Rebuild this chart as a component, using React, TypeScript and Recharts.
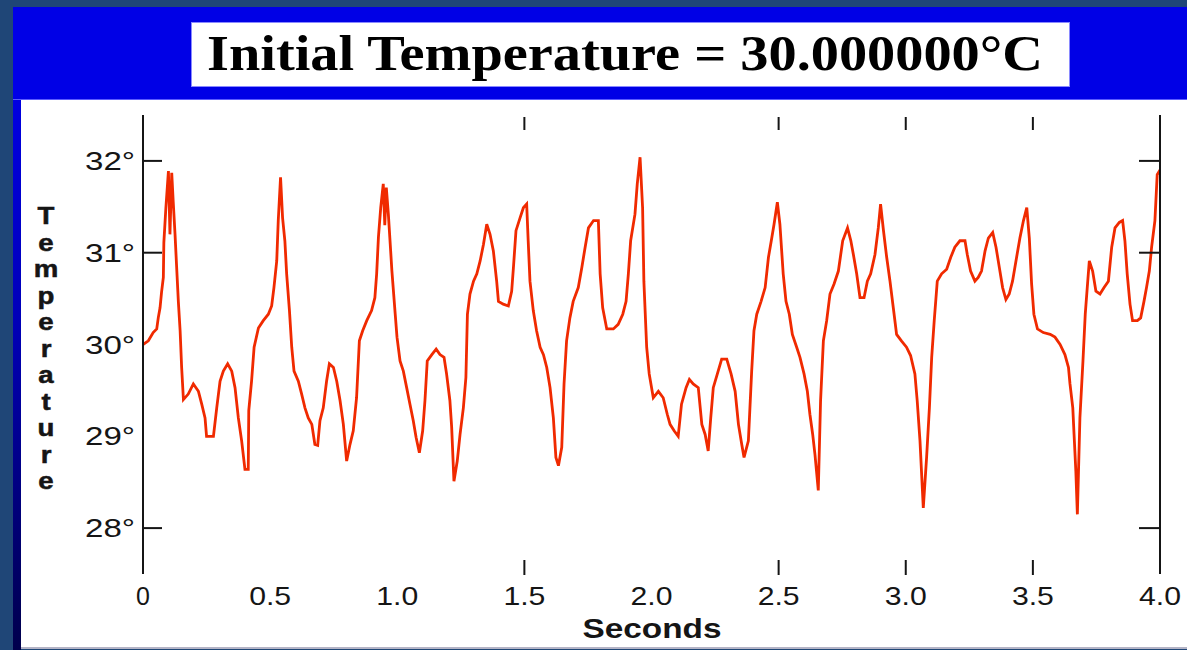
import React from 'react';
import { LineChart, Line, XAxis, YAxis } from 'recharts';

const seconds = [
  0.000, 0.021, 0.040, 0.054, 0.060, 0.067, 0.073, 0.080, 0.082, 0.090,
  0.100, 0.106, 0.113, 0.119, 0.126, 0.132, 0.139, 0.146, 0.152, 0.159,
  0.178, 0.198, 0.218, 0.231, 0.244, 0.250, 0.277, 0.290, 0.303, 0.316,
  0.333, 0.349, 0.362, 0.375, 0.388, 0.401, 0.414, 0.416, 0.427, 0.437,
  0.454, 0.473, 0.493, 0.506, 0.515, 0.526, 0.532, 0.541, 0.549, 0.558,
  0.565, 0.576, 0.585, 0.594, 0.611, 0.624, 0.637, 0.650, 0.664, 0.676,
  0.687, 0.696, 0.709, 0.722, 0.733, 0.749, 0.762, 0.775, 0.788, 0.801,
  0.814, 0.827, 0.840, 0.851, 0.864, 0.880, 0.899, 0.912, 0.919, 0.926,
  0.935, 0.945, 0.951, 0.957, 0.965, 0.979, 0.992, 0.999, 1.011, 1.024,
  1.037, 1.050, 1.063, 1.074, 1.087, 1.100, 1.109, 1.118, 1.136, 1.153,
  1.168, 1.184, 1.194, 1.207, 1.214, 1.223, 1.236, 1.247, 1.260, 1.270,
  1.276, 1.286, 1.300, 1.313, 1.326, 1.339, 1.352, 1.365, 1.378, 1.391,
  1.398, 1.417, 1.437, 1.450, 1.457, 1.467, 1.483, 1.496, 1.509, 1.515,
  1.522, 1.535, 1.548, 1.562, 1.575, 1.588, 1.601, 1.614, 1.624, 1.634,
  1.647, 1.656, 1.666, 1.679, 1.692, 1.712, 1.726, 1.739, 1.752, 1.772,
  1.791, 1.798, 1.808, 1.824, 1.850, 1.869, 1.887, 1.900, 1.909, 1.918,
  1.935, 1.944, 1.955, 1.965, 1.970, 1.981, 1.991, 2.007, 2.027, 2.046,
  2.062, 2.073, 2.089, 2.105, 2.118, 2.136, 2.149, 2.164, 2.184, 2.198,
  2.211, 2.223, 2.233, 2.243, 2.259, 2.276, 2.296, 2.313, 2.329, 2.342,
  2.355, 2.364, 2.381, 2.394, 2.403, 2.414, 2.431, 2.447, 2.460, 2.473,
  2.482, 2.495, 2.505, 2.518, 2.529, 2.542, 2.554, 2.571, 2.584, 2.600,
  2.613, 2.623, 2.634, 2.643, 2.656, 2.665, 2.676, 2.689, 2.702, 2.718,
  2.735, 2.752, 2.771, 2.784, 2.794, 2.807, 2.820, 2.836, 2.849, 2.862,
  2.879, 2.892, 2.901, 2.912, 2.925, 2.938, 2.951, 2.964, 2.983, 3.003,
  3.019, 3.036, 3.045, 3.056, 3.069, 3.082, 3.093, 3.102, 3.112, 3.124,
  3.141, 3.161, 3.177, 3.193, 3.213, 3.233, 3.242, 3.255, 3.272, 3.285,
  3.298, 3.312, 3.325, 3.342, 3.355, 3.368, 3.381, 3.394, 3.407, 3.420,
  3.436, 3.449, 3.463, 3.476, 3.486, 3.495, 3.504, 3.518, 3.541, 3.568,
  3.587, 3.607, 3.626, 3.640, 3.646, 3.657, 3.662, 3.669, 3.675, 3.685,
  3.697, 3.706, 3.715, 3.722, 3.735, 3.748, 3.764, 3.780, 3.797, 3.810,
  3.823, 3.840, 3.853, 3.862, 3.871, 3.882, 3.892, 3.911, 3.924, 3.937,
  3.947, 3.958, 3.967, 3.980, 3.989, 4.000,
];

const temperature = [
  30.00, 30.04, 30.13, 30.17, 30.29, 30.40, 30.57, 30.73, 31.11, 31.49,
  31.89, 31.20, 31.87, 31.55, 31.20, 30.86, 30.47, 30.15, 29.75, 29.40,
  29.46, 29.57, 29.49, 29.35, 29.20, 29.00, 29.00, 29.31, 29.60, 29.71,
  29.79, 29.71, 29.53, 29.20, 28.95, 28.64, 28.64, 29.28, 29.60, 29.97,
  30.18, 30.26, 30.33, 30.42, 30.62, 30.91, 31.35, 31.82, 31.38, 31.13,
  30.77, 30.37, 29.97, 29.71, 29.60, 29.46, 29.31, 29.20, 29.13, 28.91,
  28.90, 29.17, 29.31, 29.60, 29.79, 29.75, 29.60, 29.39, 29.13, 28.73,
  28.91, 29.06, 29.42, 30.04, 30.15, 30.26, 30.37, 30.51, 30.77, 31.17,
  31.49, 31.75, 31.30, 31.71, 31.42, 30.80, 30.33, 30.08, 29.82, 29.71,
  29.53, 29.35, 29.17, 28.99, 28.82, 29.06, 29.39, 29.82, 29.89, 29.95,
  29.89, 29.86, 29.68, 29.39, 29.10, 28.51, 28.73, 29.02, 29.31, 29.64,
  30.33, 30.55, 30.69, 30.77, 30.91, 31.09, 31.31, 31.20, 31.02, 30.69,
  30.47, 30.44, 30.42, 30.58, 30.84, 31.24, 31.38, 31.49, 31.53, 31.13,
  30.69, 30.37, 30.15, 29.97, 29.89, 29.75, 29.53, 29.20, 28.77, 28.68,
  28.88, 29.57, 30.04, 30.29, 30.47, 30.62, 30.84, 31.06, 31.27, 31.35,
  31.35, 30.77, 30.40, 30.17, 30.17, 30.22, 30.33, 30.47, 30.77, 31.13,
  31.42, 31.75, 32.04, 31.49, 30.69, 29.97, 29.68, 29.42, 29.49, 29.42,
  29.24, 29.13, 29.06, 29.00, 29.35, 29.53, 29.62, 29.57, 29.53, 29.13,
  29.02, 28.84, 29.20, 29.53, 29.68, 29.84, 29.84, 29.68, 29.49, 29.13,
  28.91, 28.77, 28.95, 29.71, 30.15, 30.33, 30.47, 30.62, 30.95, 31.16,
  31.31, 31.55, 31.31, 30.77, 30.47, 30.33, 30.11, 29.97, 29.86, 29.68,
  29.49, 29.24, 29.02, 28.80, 28.41, 29.39, 30.04, 30.26, 30.55, 30.66,
  30.80, 31.13, 31.27, 31.13, 30.98, 30.77, 30.51, 30.51, 30.69, 30.77,
  30.98, 31.27, 31.53, 31.25, 30.95, 30.69, 30.40, 30.11, 30.04, 29.97,
  29.88, 29.68, 29.39, 28.95, 28.22, 28.77, 29.31, 29.86, 30.26, 30.69,
  30.77, 30.82, 30.95, 31.06, 31.13, 31.13, 30.98, 30.80, 30.69, 30.73,
  30.80, 31.02, 31.16, 31.22, 31.06, 30.84, 30.62, 30.49, 30.55, 30.69,
  30.95, 31.16, 31.35, 31.49, 31.16, 30.66, 30.33, 30.17, 30.13, 30.11,
  30.08, 30.00, 29.89, 29.75, 29.57, 29.31, 29.02, 28.62, 28.15, 29.20,
  29.82, 30.33, 30.66, 30.91, 30.80, 30.58, 30.55, 30.62, 30.69, 31.06,
  31.27, 31.33, 31.35, 31.13, 30.77, 30.44, 30.26, 30.26, 30.29, 30.47,
  30.62, 30.80, 31.06, 31.35, 31.85, 31.90,
];

const xTickValues = [0, 0.5, 1, 1.5, 2, 2.5, 3, 3.5, 4];
const xTickLabels = ['0', '0.5', '1.0', '1.5', '2.0', '2.5', '3.0', '3.5', '4.0'];
const xTickMarks = [1.5, 2.5, 3, 3.5];
const yTickValues = [28, 29, 30, 31, 32];
const yTickLabels = ['28°', '29°', '30°', '31°', '32°'];
const yTickMarks = [28, 31, 32];
const titleText = 'Initial Temperature = 30.000000°C';
const xAxisTitle = 'Seconds';
const yAxisTitle = 'Temperature';

const data = seconds.map((t, i) => ({ t, temp: temperature[i] }));

const SANS = '"Liberation Sans", Arial, Helvetica, sans-serif';
const INK = '#151515';

// plot frame (page pixels)
const PLOT_LEFT = 143;
const PLOT_RIGHT = 1160;
const PLOT_TOP = 115;
const PLOT_BOTTOM = 574;

const BottomTick = (props: any) => {
  const { x, payload } = props;
  const v = payload.value;
  const idx = xTickValues.indexOf(v);
  const label = idx >= 0 ? xTickLabels[idx] : String(v);
  const extra: any = label.length > 1 ? { textLength: 42, lengthAdjust: 'spacingAndGlyphs' } : {};
  const y = PLOT_BOTTOM;
  return (
    <g>
      {xTickMarks.includes(v) && (
        <line x1={x} x2={x} y1={y + 1} y2={y - 14} stroke={INK} strokeWidth={2} />
      )}
      <text x={x} y={y + 31} textAnchor="middle" fontFamily={SANS} fontSize={25} fill={INK} {...extra}>
        {label}
      </text>
    </g>
  );
};

const TopTick = (props: any) => {
  const { x, payload } = props;
  if (!xTickMarks.includes(payload.value)) return <g />;
  const y = PLOT_TOP;
  return <line x1={x} x2={x} y1={y + 2} y2={y + 15} stroke={INK} strokeWidth={2} />;
};

const LeftTick = (props: any) => {
  const { y, payload } = props;
  const x = PLOT_LEFT;
  const v = payload.value;
  const idx = yTickValues.indexOf(v);
  const label = idx >= 0 ? yTickLabels[idx] : String(v);
  return (
    <g>
      {yTickMarks.includes(v) && (
        <line x1={x} x2={x + 19} y1={y} y2={y} stroke={INK} strokeWidth={2} />
      )}
      <text
        x={x - 8}
        y={y + 9}
        textAnchor="end"
        fontFamily={SANS}
        fontSize={25}
        fill={INK}
        textLength={50}
        lengthAdjust="spacingAndGlyphs"
      >
        {label}
      </text>
    </g>
  );
};

const RightTick = (props: any) => {
  const { y, payload } = props;
  if (!yTickMarks.includes(payload.value)) return <g />;
  const x = PLOT_RIGHT;
  return <line x1={x - 21} x2={x} y1={y} y2={y} stroke={INK} strokeWidth={2} />;
};

const LEFT_W = 60;
const RIGHT_W = 10;
const BOTTOM_H = 40;
const TOP_H = 10;

export default function App() {
  return (
    <div
      style={{
        position: 'absolute',
        left: 0,
        top: 0,
        width: 1187,
        height: 650,
        background: '#1f4677',
        overflow: 'hidden',
      }}
    >
      <div
        style={{
          position: 'absolute',
          left: 13,
          top: 7,
          width: 1174,
          height: 93,
          background: '#0000e6',
          borderBottom: '1px solid #5c5cff',
          boxSizing: 'border-box',
        }}
      />
      <div
        style={{
          position: 'absolute',
          left: 13,
          top: 100,
          width: 8,
          height: 550,
          background: 'linear-gradient(to bottom, #0000e0 0%, #0000b8 40%, #00004c 100%)',
        }}
      />
      <div
        style={{
          position: 'absolute',
          left: 21,
          top: 100,
          width: 1166,
          height: 549,
          background: '#ffffff',
          borderBottom: '2px solid #b4b4c6',
          boxSizing: 'border-box',
        }}
      />
      <div
        style={{
          position: 'absolute',
          left: 191,
          top: 22,
          width: 879,
          height: 65,
          background: '#ffffff',
          border: '1px solid #8a8aff',
          boxSizing: 'border-box',
        }}
      />
      <div style={{ position: 'absolute', left: 0, top: 0 }}>
        <LineChart
          width={1187}
          height={650}
          data={data}
          margin={{
            top: PLOT_TOP - TOP_H,
            right: 1187 - PLOT_RIGHT - RIGHT_W,
            bottom: 650 - PLOT_BOTTOM - BOTTOM_H,
            left: PLOT_LEFT - LEFT_W,
          }}
        >
          <XAxis
            dataKey="t"
            type="number"
            domain={[0, 4]}
            ticks={xTickValues}
            interval={0}
            height={BOTTOM_H}
            axisLine={false}
            tickLine={false}
            tick={<BottomTick />}
            allowDataOverflow
          />
          <XAxis
            xAxisId="top"
            orientation="top"
            dataKey="t"
            type="number"
            domain={[0, 4]}
            ticks={xTickValues}
            interval={0}
            height={TOP_H}
            axisLine={false}
            tickLine={false}
            tick={<TopTick />}
            allowDataOverflow
          />
          <YAxis
            type="number"
            domain={[27.5, 32.5]}
            ticks={yTickValues}
            interval={0}
            width={LEFT_W}
            axisLine={{ stroke: INK, strokeWidth: 2 }}
            tickLine={false}
            tick={<LeftTick />}
            allowDataOverflow
          />
          <YAxis
            yAxisId="right"
            orientation="right"
            type="number"
            domain={[27.5, 32.5]}
            ticks={yTickValues}
            interval={0}
            width={RIGHT_W}
            axisLine={{ stroke: INK, strokeWidth: 2 }}
            tickLine={false}
            tick={<RightTick />}
            allowDataOverflow
          />
          <Line
            type="linear"
            dataKey="temp"
            stroke="#f02a00"
            strokeWidth={2.8}
            dot={false}
            activeDot={false}
            isAnimationActive={false}
          />
        </LineChart>
      </div>
      <svg
        width={1187}
        height={650}
        style={{ position: 'absolute', left: 0, top: 0, pointerEvents: 'none' }}
      >
        <text
          x={625}
          y={70}
          textAnchor="middle"
          fontFamily='"Liberation Serif", "Times New Roman", serif'
          fontWeight="bold"
          fontSize={50}
          fill="#000"
          textLength={836}
          lengthAdjust="spacingAndGlyphs"
        >
          {titleText}
        </text>
        <text
          x={652}
          y={638}
          textAnchor="middle"
          fontFamily={SANS}
          fontWeight="bold"
          fontSize={27}
          fill={INK}
          textLength={139}
          lengthAdjust="spacingAndGlyphs"
        >
          {xAxisTitle}
        </text>
        {yAxisTitle.split('').map((ch, i) => (
          <text
            key={i}
            transform={`translate(46, ${224 + i * 26.5}) scale(1.2, 1)`}
            x={0}
            y={0}
            textAnchor="middle"
            fontFamily={SANS}
            fontWeight="bold"
            fontSize={23}
            fill={INK}
            stroke={INK}
            strokeWidth={0.5}
          >
            {ch}
          </text>
        ))}
      </svg>
    </div>
  );
}
